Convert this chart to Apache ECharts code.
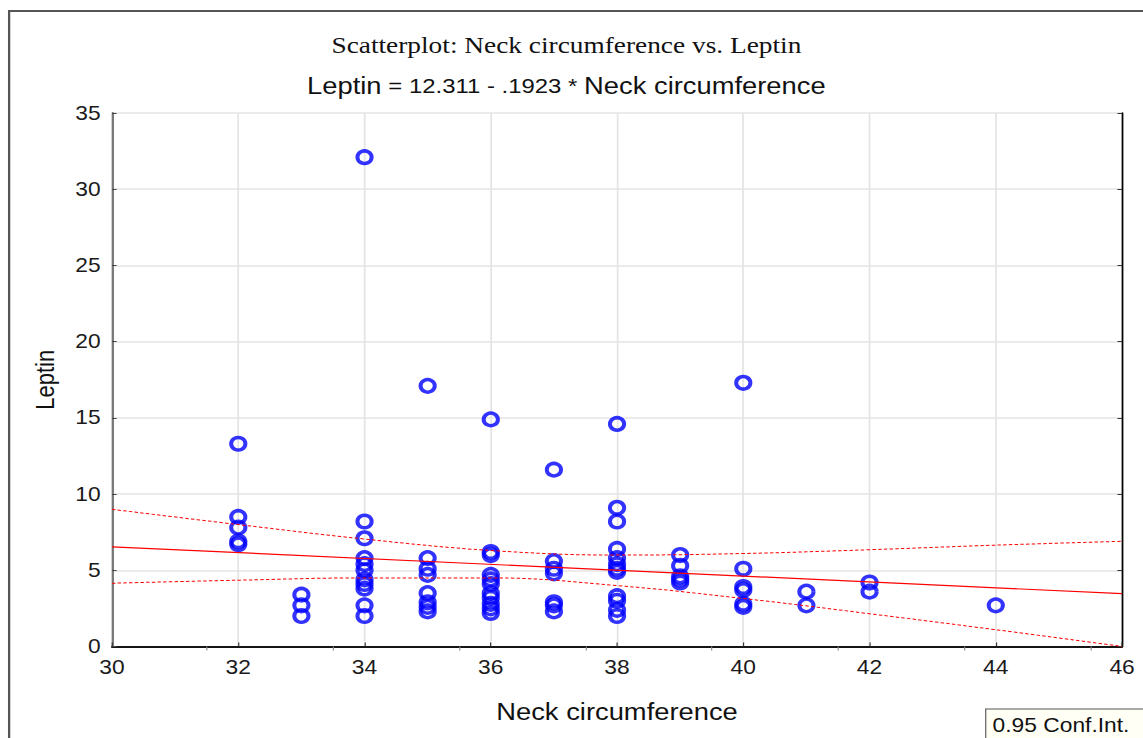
<!DOCTYPE html>
<html>
<head>
<meta charset="utf-8">
<script src="https://cdn.jsdelivr.net/npm/echarts@6/dist/echarts.min.js"></script>
<style>
  html, body { margin: 0; padding: 0; background: #fff; overflow: hidden; width: 1143px; height: 738px; }
  /* the plot is drawn a little narrower and widened horizontally, like the exported graph */
  #chart { width: 1003px; height: 738px; transform: scaleX(1.1396); transform-origin: 0 0; }
</style>
</head>
<body>
<div id="chart"></div>
<script>
// Neck circumference (cm) of each subject
const neckCircumference = [
  32, 32, 32, 32, 32,
  33, 33, 33,
  34, 34, 34, 34, 34, 34, 34, 34, 34, 34, 34,
  35, 35, 35, 35, 35, 35, 35, 35,
  36, 36, 36, 36, 36, 36, 36, 36, 36, 36, 36,
  37, 37, 37, 37, 37, 37, 37,
  38, 38, 38, 38, 38, 38, 38, 38, 38, 38, 38, 38,
  39, 39, 39, 39, 39,
  40, 40, 40, 40, 40, 40,
  41, 41,
  42, 42,
  44
];

// Leptin level of the same subjects, in the same order
const leptinLevel = [
  13.3, 8.5, 7.8, 6.9, 6.7,
  3.4, 2.7, 2.0,
  32.1, 8.2, 7.1, 5.8, 5.4, 5.0, 4.4, 4.1, 3.8, 2.7, 2.0,
  17.1, 5.8, 5.1, 4.7, 3.5, 2.9, 2.6, 2.3,
  14.9, 6.2, 6.0, 4.7, 4.4, 4.1, 3.5, 3.2, 2.8, 2.5, 2.2,
  11.6, 5.6, 5.1, 4.8, 2.9, 2.7, 2.3,
  14.6, 9.1, 8.2, 6.4, 5.8, 5.4, 5.1, 4.9, 3.3, 3.0, 2.4, 2.0,
  6.0, 5.3, 4.6, 4.4, 4.2,
  17.3, 5.1, 3.9, 3.7, 2.8, 2.6,
  3.6, 2.7,
  4.2, 3.6,
  2.7
];

// Fitted line: Leptin = 12.311 - .1923 * Neck circumference
const fitIntercept = 12.311;
const fitSlope = -0.1923;
const fitRange = [30, 46];

// 0.95 confidence band of the fitted line
const bandNeck  = [30,   32,   34,   36,   38,   40,   42,   44,   46];
const bandUpper = [9.0,  8.0,  7.05, 6.3,  6.0,  6.1,  6.35, 6.65, 6.9];
const bandLower = [4.15, 4.35, 4.5,  4.5,  4.0,  3.15, 2.15, 1.1,  0.0];

// minor marks along the top frame
const topFrameTicks = [31.5, 33.5, 35.5, 37.5, 39.5, 41.5, 43.5, 45.5];

const SANS = '"Liberation Sans", Arial, sans-serif';
const SERIF = '"Liberation Serif", "Times New Roman", serif';
const GRID_COLOR = '#e4e4e4';

const points = neckCircumference.map((x, i) => [x, leptinLevel[i]]);
const fitLine = fitRange.map(x => [x, fitIntercept + fitSlope * x]);
const upperLine = bandNeck.map((x, i) => [x, bandUpper[i]]);
const lowerLine = bandNeck.map((x, i) => [x, bandLower[i]]);

const chart = echarts.init(document.getElementById('chart'), null, { renderer: 'svg' });

chart.setOption({
  animation: false,
  backgroundColor: '#ffffff',
  title: [
    {
      text: 'Scatterplot: Neck circumference vs. Leptin',
      left: 497, top: 33, textAlign: 'center', padding: 0,
      textStyle: { fontFamily: SERIF, fontSize: 24, fontWeight: 'normal', color: '#111' }
    },
    {
      text: '{b|Leptin} = 12.311 - .1923 * {b|Neck circumference}',
      left: 497, top: 74, textAlign: 'center', padding: 0,
      textStyle: {
        fontFamily: SANS, fontSize: 21, fontWeight: 'normal', color: '#111',
        rich: { b: { fontFamily: SANS, fontSize: 24, color: '#111' } }
      }
    }
  ],
  grid: { left: 98.3, right: 18.4, top: 113, bottom: 91.5 },
  xAxis: [
    {
      type: 'value', position: 'bottom', min: 30, max: 46, interval: 2,
      name: 'Neck circumference', nameLocation: 'middle', nameGap: 53,
      nameTextStyle: { fontFamily: SANS, fontSize: 24, color: '#111' },
      axisLine: { show: true, lineStyle: { color: '#555', width: 2 } },
      axisTick: { show: true, inside: true, length: 4, lineStyle: { color: '#333', width: 1 } },
      axisLabel: { fontFamily: SANS, fontSize: 20, color: '#1a1a1a', margin: 11 },
      splitLine: { show: true, lineStyle: { color: GRID_COLOR, width: 1.5 } }
    },
    {
      type: 'value', position: 'top', min: 30, max: 46,
      axisLine: { show: true, lineStyle: { color: '#000', width: 1.5 } },
      axisTick: { show: true, inside: true, length: 4, customValues: topFrameTicks,
                  lineStyle: { color: '#888', width: 1 } },
      axisLabel: { show: false },
      splitLine: { show: false }
    }
  ],
  yAxis: [
    {
      type: 'value', position: 'left', min: 0, max: 35, interval: 5,
      name: 'Leptin', nameLocation: 'middle', nameGap: 47,
      nameTextStyle: { fontFamily: SANS, fontSize: 22, color: '#111' },
      axisLine: { show: true, lineStyle: { color: '#777', width: 2 } },
      axisTick: { show: true, inside: true, length: 4, lineStyle: { color: '#444', width: 1 } },
      axisLabel: { fontFamily: SANS, fontSize: 20, color: '#1a1a1a', margin: 10 },
      splitLine: { show: true, lineStyle: { color: GRID_COLOR, width: 1.5 } }
    },
    {
      type: 'value', position: 'right', min: 0, max: 35, interval: 5,
      axisLine: { show: true, lineStyle: { color: '#000', width: 1.5 } },
      axisTick: { show: true, inside: true, length: 4, lineStyle: { color: '#333', width: 1 } },
      axisLabel: { show: false },
      splitLine: { show: false }
    }
  ],
  series: [
    {
      name: 'Leptin', type: 'scatter', xAxisIndex: 0, yAxisIndex: 0,
      data: points, symbol: 'circle', symbolSize: 12.5, silent: true, z: 3,
      itemStyle: { color: 'rgba(0,0,0,0)', borderColor: '#0000ff', borderWidth: 3.5 }
    },
    {
      name: 'Fit', type: 'line', data: fitLine, showSymbol: false, silent: true, z: 4,
      lineStyle: { color: '#ff0000', width: 1.2 }
    },
    {
      name: 'Upper 0.95', type: 'line', data: upperLine, smooth: 0.4, showSymbol: false, silent: true, z: 4,
      lineStyle: { color: '#ff0000', width: 1, type: [3, 2] }
    },
    {
      name: 'Lower 0.95', type: 'line', data: lowerLine, smooth: 0.4, showSymbol: false, silent: true, z: 4,
      lineStyle: { color: '#ff0000', width: 1, type: [3, 2] }
    }
  ],
  graphic: [
    {
      type: 'rect', silent: true, z: 10,
      shape: { x: 8, y: 11, width: 1100, height: 800 },
      style: { fill: 'none', stroke: '#555', lineWidth: 2 }
    },
    {
      type: 'rect', silent: true, z: 10,
      shape: { x: 865, y: 709, width: 200, height: 60 },
      style: { fill: '#fffff6', stroke: '#555', lineWidth: 1 }
    },
    {
      type: 'text', silent: true, z: 11, x: 871, y: 725,
      style: { text: '0.95 Conf.Int.', font: '20px ' + SANS, fill: '#111', verticalAlign: 'middle' }
    }
  ]
});
</script>
</body>
</html>
